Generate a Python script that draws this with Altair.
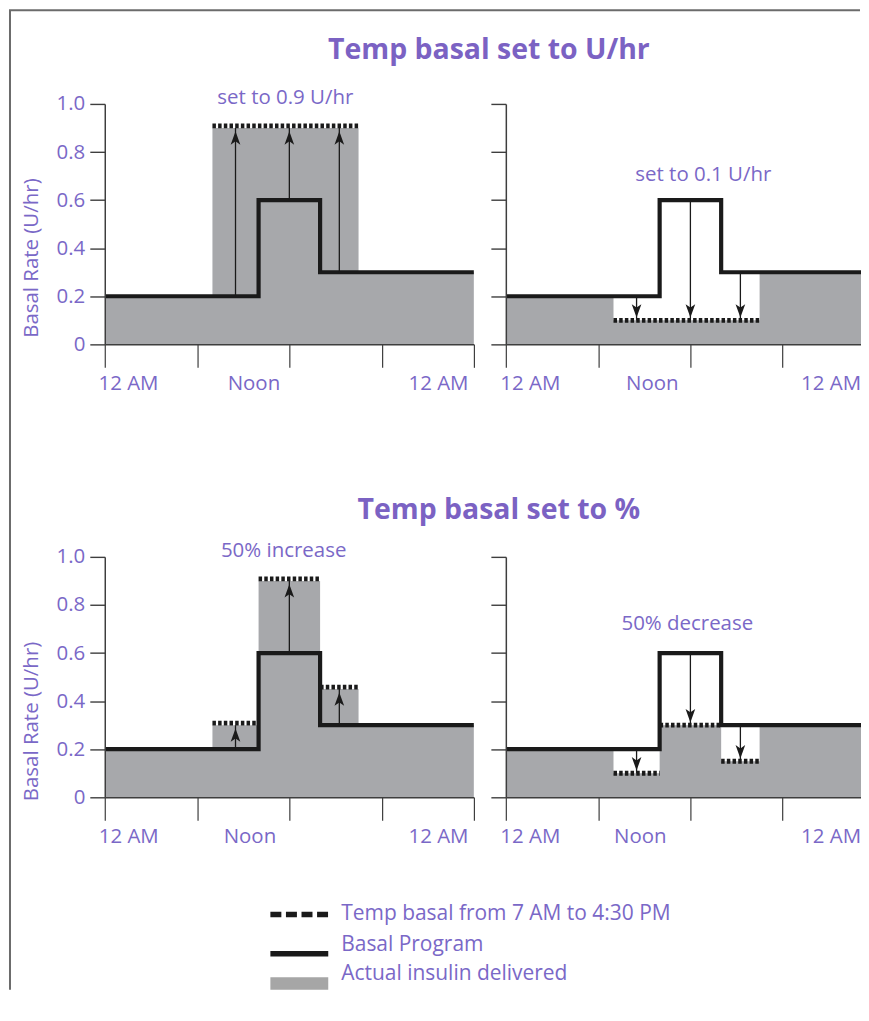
import altair as alt
import pandas as pd

# ---------------- data (hours of day / U per hr) ----------------
basal_hours = [0, 10, 14, 24]
basal_rates = [0.2, 0.6, 0.3, 0.3]

delivered_hours = [0, 7, 10, 14, 16.5, 24]
p1_delivered = [0.2, 0.9, 0.9, 0.9, 0.3, 0.3]
p2_delivered = [0.2, 0.1, 0.1, 0.1, 0.3, 0.3]
p3_delivered = [0.2, 0.3, 0.9, 0.45, 0.3, 0.3]
p4_delivered = [0.2, 0.1, 0.3, 0.15, 0.3, 0.3]

p1_temp_start = [7]
p1_temp_end = [16.5]
p1_temp_rate = [0.9]
p2_temp_start = [7]
p2_temp_end = [16.5]
p2_temp_rate = [0.1]
p3_temp_start = [7, 10, 14]
p3_temp_end = [10, 14, 16.5]
p3_temp_rate = [0.3, 0.9, 0.45]
p4_temp_start = [7, 10, 14]
p4_temp_end = [10, 14, 16.5]
p4_temp_rate = [0.1, 0.3, 0.15]

arrow_hours = [8.5, 12, 15.25]
arrow_from = [0.2, 0.6, 0.3]
p1_arrow_to = [0.9, 0.9, 0.9]
p2_arrow_to = [0.1, 0.1, 0.1]
p3_arrow_to = [0.3, 0.9, 0.45]
p4_arrow_to = [0.1, 0.3, 0.15]

note_text = ["set to 0.9 U/hr", "set to 0.1 U/hr", "50% increase", "50% decrease"]
note_hour = [11.74, 12.84, 11.63, 11.8]
note_rate = [1.0, 0.678, 1.0, 0.694]

row_titles = ["Temp basal set to U/hr", "Temp basal set to %"]
y_title = "Basal Rate (U/hr)"
# left panels show the full day; right panels are cut by the page edge
x_tick_hours_left = [0, 6, 12, 18, 24]
x_tick_text_left = ["12 AM", "", "Noon", "", "12 AM"]
x_tick_hours_right = [0, 6, 12, 18]
x_tick_text_right = ["12 AM", "", "Noon", "12 AM"]
y_tick_values = [0, 0.2, 0.4, 0.6, 0.8, 1.0]
legend_labels = ["Temp basal from 7 AM to 4:30 PM", "Basal Program", "Actual insulin delivered"]

# ---------------- style ----------------
PURPLE = "#7a68c7"
TITLE_C = "#7b62c3"
GRAY = "#a7a8ab"
BLACK = "#1a1a1a"
AXIS_C = "#3e3e3e"
FRAME_C = "#6b6b6b"
FONT = "Open Sans"
FS = 20.5
UP = "M0,-1L0.72,1L0,0.5L-0.72,1Z"
DOWN = "M0,1L0.72,-1L0,-0.5L-0.72,-1Z"
PX_PER_HOUR = 370 / 24
RIGHT_W = 356


def make_expr(hours, texts):
    return " : ".join(f"datum.value === {h} ? '{t}'" for h, t in zip(hours, texts)) + " : ''"


def panel(delivered, t_start, t_end, t_rate, arrow_to, up, ni, left_side,
          offs, title=None, ytitle_y=154, extra=()):
    width = 370 if left_side else RIGHT_W
    xmax = width / PX_PER_HOUR
    hours = x_tick_hours_left if left_side else x_tick_hours_right
    texts = x_tick_text_left if left_side else x_tick_text_right
    last = hours[-1]
    xs = alt.Scale(domain=[0, xmax], nice=False, zero=False)
    ys = alt.Scale(domain=[0, 1], nice=False)
    xaxis = alt.Axis(
        values=hours, labelExpr=make_expr(hours, texts), title=None, grid=False,
        tickSize=23, tickWidth=1.2, tickColor=AXIS_C,
        domainColor=AXIS_C, domainWidth=1.5,
        labelPadding=22, labelBaseline="alphabetic", labelAlign="center",
        labelOffset={"condition": [
            {"test": "datum.value === 0", "value": offs[0]},
            {"test": "datum.value === 12", "value": offs[1]},
            {"test": f"datum.value === {last}", "value": offs[2]}],
            "value": 0},
        labelFlush=False, labelOverlap=False, labelColor=PURPLE,
        labelFontSize=FS, labelFont=FONT, zindex=1,
    )
    if left_side:
        yaxis = alt.Axis(
            values=y_tick_values,
            labelExpr="datum.value === 0 ? '0' : format(datum.value, '.1f')",
            grid=False, tickSize=15, tickWidth=1.4, tickColor=AXIS_C,
            domainColor=AXIS_C, domainWidth=1.5, labelPadding=5,
            labelColor=PURPLE, labelFontSize=FS, labelFont=FONT,
            title=y_title, titleFontSize=FS, titleFontWeight="normal",
            titleFont=FONT, titleColor=PURPLE, titleX=-73, titleY=ytitle_y,
            titleAlign="center", titleBaseline="middle", zindex=1,
        )
    else:
        yaxis = alt.Axis(
            values=y_tick_values, labels=False, title=None, grid=False,
            tickSize=15, tickWidth=1.4, tickColor=AXIS_C,
            domainColor=AXIS_C, domainWidth=1.5, zindex=1,
        )

    def X(f):
        return alt.X(f, type="quantitative", scale=xs, axis=xaxis)

    def Y(f):
        return alt.Y(f, type="quantitative", scale=ys, axis=yaxis)

    area = alt.Chart(pd.DataFrame({"h": delivered_hours, "r": delivered})).mark_area(
        interpolate="step-after", color=GRAY, opacity=1, clip=True
    ).encode(x=X("h"), y=Y("r"))

    temp = alt.Chart(pd.DataFrame({"h": t_start, "h2": t_end, "r": t_rate})).mark_rule(
        strokeDash=[3.5, 2.2], strokeWidth=4.8, color=BLACK, yOffset=-2 if up else 0
    ).encode(x=X("h"), x2="h2", y=Y("r"))

    basal = alt.Chart(pd.DataFrame({"h": basal_hours, "r": basal_rates})).mark_line(
        interpolate="step-after", color=BLACK, strokeWidth=4.2, clip=True
    ).encode(x=X("h"), y=Y("r"))

    arrows = pd.DataFrame({"h": arrow_hours, "r": arrow_from, "r2": arrow_to})
    shaft = alt.Chart(arrows).mark_rule(strokeWidth=1.3, color=BLACK).encode(
        x=X("h"), y=Y("r"), y2="r2"
    )
    heads = pd.DataFrame({"h": arrow_hours, "r": arrow_to})
    head = alt.Chart(heads).mark_point(
        shape=UP if up else DOWN, size=180, filled=True, color=BLACK, opacity=1,
        strokeWidth=0, yOffset=10 if up else -9.5
    ).encode(x=X("h"), y=Y("r"))

    note = alt.Chart(pd.DataFrame({"h": [note_hour[ni]], "r": [note_rate[ni]],
                                   "t": [note_text[ni]]})).mark_text(
        fontSize=FS, font=FONT, color=PURPLE, align="center", baseline="alphabetic"
    ).encode(x=X("h"), y=Y("r"), text="t:N")

    ch = alt.layer(area, temp, basal, shaft, head, note, *extra).properties(
        width=width, height=241)
    if title is not None:
        ch = ch.properties(title=title)
    return ch


def row_title(text, dx, dy):
    return alt.TitleParams(text=text, anchor="middle", frame="group", dx=dx, dy=dy,
                           fontSize=28.5, fontWeight="bold", color=TITLE_C, font=FONT)


# ---------------- legend + outer frame (drawn in bottom-right panel's pixel space) ----
one = pd.DataFrame({"k": [0]})
leg_df = pd.DataFrame({"t": legend_labels, "i": [0, 1, 2]})
BOTTOM = 434
legend_layers = [
    alt.Chart(one).mark_rule(strokeDash=[11, 4.6], strokeWidth=5.5, color=BLACK).encode(
        x=alt.value(-236), x2=alt.value(-178), y=alt.value(358.5)),
    alt.Chart(one).mark_rule(strokeWidth=5.5, color=BLACK).encode(
        x=alt.value(-236), x2=alt.value(-178), y=alt.value(397.7)),
    alt.Chart(one).mark_rect(color="#a6a6a6").encode(
        x=alt.value(-236), x2=alt.value(-178), y=alt.value(421.3), y2=alt.value(BOTTOM)),
]
for i, base in enumerate([363.7, 394.7, 423.7]):
    legend_layers.append(
        alt.Chart(leg_df).transform_filter(f"datum.i === {i}").mark_text(
            align="left", baseline="alphabetic", fontSize=21, font=FONT, color=PURPLE
        ).encode(x=alt.value(-165), y=alt.value(base), text="t:N")
    )
legend_layers += [
    alt.Chart(one).mark_rule(color=FRAME_C, strokeWidth=2).encode(
        x=alt.value(-497), y=alt.value(-548), y2=alt.value(BOTTOM)),
    alt.Chart(one).mark_rule(color=FRAME_C, strokeWidth=2).encode(
        x=alt.value(-498), x2=alt.value(RIGHT_W - 1), y=alt.value(-548)),
]

p1 = panel(p1_delivered, p1_temp_start, p1_temp_end, p1_temp_rate, p1_arrow_to, True, 0,
           True, (23.3, -36, -36), title=row_title(row_titles[0], 200, -20), ytitle_y=154)
p2 = panel(p2_delivered, p2_temp_start, p2_temp_end, p2_temp_rate, p2_arrow_to, False, 1,
           False, (24, -38.7, 48))
p3 = panel(p3_delivered, p3_temp_start, p3_temp_end, p3_temp_rate, p3_arrow_to, True, 2,
           True, (23.5, -40, -36), title=row_title(row_titles[1], 210, -12), ytitle_y=164.5)
p4 = panel(p4_delivered, p4_temp_start, p4_temp_end, p4_temp_rate, p4_arrow_to, False, 3,
           False, (24, -50.7, 48), extra=legend_layers)

chart = alt.concat(p1, p2, p3, p4, columns=2, spacing={"row": 213, "column": 32},
                   bounds="flush").properties(padding=0).configure(
    font=FONT).configure_view(strokeOpacity=0)

chart.save("out.html", embed_options={"renderer": "svg", "actions": False})
